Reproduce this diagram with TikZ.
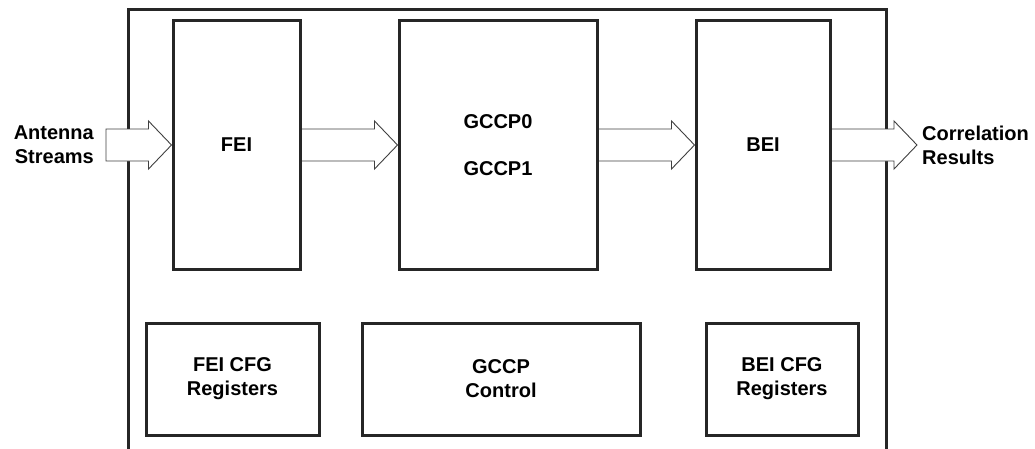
\documentclass[tikz,border=0pt]{standalone}
\usepackage{fontspec}
\setmainfont{Liberation Sans}
\usetikzlibrary{calc}

\pgfdeclarelayer{frame}
\pgfdeclarelayer{arrows}
\pgfsetlayers{frame,arrows,main}

\tikzset{
    block/.style={draw=black!85, line width=3pt, fill=white, align=center,
        font=\fontsize{20}{24}\selectfont\bfseries},
    blockarrow/.style={draw=black!75, line width=0.9pt, fill=white, line join=miter},
    tag/.style={font=\fontsize{20}{24}\selectfont\bfseries, inner sep=0pt}
}

% wide hollow arrow from a start point to its tip
\newcommand{\blockarrow}[2]{
    \filldraw[blockarrow] ($(#1)+(0,-16)$) -- ($(#2)+(-23,-16)$) -- ($(#2)+(-23,-24)$)
        -- (#2) -- ($(#2)+(-23,24)$) -- ($(#2)+(-23,16)$) -- ($(#1)+(0,16)$) -- cycle;
}

\begin{document}
\begin{tikzpicture}[x=1pt, y=-1pt]
    \useasboundingbox (0,0) rectangle (1035,448);

    % chip outline, open at the bottom
    \begin{pgfonlayer}{frame}
        \draw[black!85, line width=3pt] (128,470) -- (128,9) -- (886,9) -- (886,470);
    \end{pgfonlayer}

    % data path
    \node[block, minimum width=127, minimum height=249] (fei) at (236.5,145) {FEI};
    \node[block, minimum width=198, minimum height=249] (gccp) at (498,145) {GCCP0\\[23pt]GCCP1};
    \node[block, minimum width=134, minimum height=249] (bei) at (763,145) {BEI};

    % configuration and control
    \node[block, minimum width=173, minimum height=112] (feicfg) at (232.5,379) {FEI CFG\\Registers};
    \node[block, minimum width=278, minimum height=112] (gccpctl) at (501,379) {GCCP\\Control};
    \node[block, minimum width=152, minimum height=112] (beicfg) at (782,379) {BEI CFG\\Registers};

    % streams in and out
    \node[tag, align=right, anchor=east] (ant) at (94,145) {Antenna\\Streams};
    \node[tag, align=left, anchor=west] (res) at (922,145) {Correlation\\Results};
    \coordinate (in) at (106,145);
    \coordinate (out) at (917,145);

    \begin{pgfonlayer}{arrows}
        \blockarrow{in}{fei.west}
        \blockarrow{fei.east}{gccp.west}
        \blockarrow{gccp.east}{bei.west}
        \blockarrow{bei.east}{out}
    \end{pgfonlayer}
\end{tikzpicture}
\end{document}
